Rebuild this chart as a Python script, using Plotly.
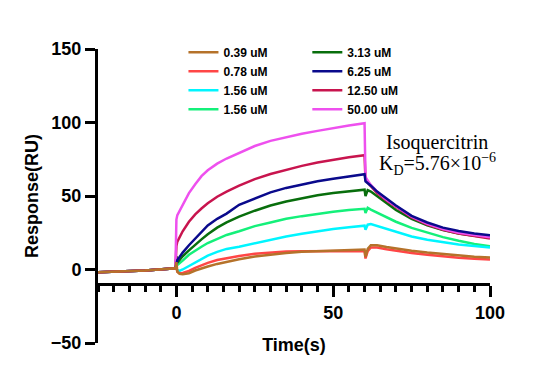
import plotly.graph_objects as go

# Time axis (s)
time_s = [-25, -10, -0.3, 0, 0.3, 1, 2, 4, 6, 8, 10, 13, 16, 20, 25, 30, 35, 40, 45, 50, 55, 60,
          60.3, 61, 62, 64, 67, 70, 75, 80, 85, 90, 95, 100]

# Responses (RU) per concentration
r_039 = [-1.8, -0.6, 0.8, 5, -1.5, -3, -3.2, -2.5, -0.7, 0.8, 2, 3.8, 5.3, 7, 8.8, 10.2, 11.3, 12, 12.5, 13, 13.3, 13.6,
         8.5, 14, 16.5, 16.5, 15.3, 14.3, 12.8, 11.5, 10.4, 9.5, 8.7, 8.2]
r_078 = [-1.8, -0.6, 0.8, 1, -1.5, -2.5, -2.3, -1, 1.1, 3, 4.5, 6.5, 7.8, 9.2, 10.7, 11.6, 12.2, 12.5, 12.6, 12.6, 12.6, 12.6,
         7.5, 12.5, 15, 15, 13.8, 12.8, 11.2, 10, 8.8, 8, 7.3, 6.8]
r_156a = [-1.8, -0.6, 0.8, 0.5, -0.5, -1, 0, 2.5, 5, 7.5, 9.5, 12, 14, 15.5, 18, 20.3, 22.5, 24.3, 26, 27.5, 28.8, 29.8,
          27, 30.5, 31, 29.7, 27.7, 25.5, 22.5, 20.2, 18.5, 17, 16, 15]
r_156b = [-1.8, -0.6, 0.8, 3, 3, 4, 6, 10, 13, 15.5, 18, 21, 23.5, 26, 29.5, 32, 34.5, 36.3, 38, 39.3, 40.5, 41.3,
          38.5, 42, 40.8, 38.7, 35.5, 32.5, 28.3, 25, 22, 19.5, 17.3, 15.8]
r_313 = [-1.8, -0.6, 0.8, 9, 4.7, 6.5, 9, 13, 17, 20.5, 24, 28.5, 32, 36, 40, 43.5, 46.3, 48.5, 50.5, 52, 53.3, 54.3,
         50, 54, 53, 50, 45, 40.5, 34.5, 30, 26.8, 24.5, 23, 21.8]
r_625 = [-1.8, -0.6, 0.8, 5.5, 6.5, 8.5, 11.5, 16.5, 21, 25.5, 30, 34.5, 38, 44, 48.5, 52.5, 55.5, 58, 60, 61.8, 63.3, 64.8,
         60, 58.5, 57, 53, 48, 43.5, 36.5, 32, 28.5, 26.2, 24.5, 23.3]
r_1250 = [-1.8, -0.6, 0.8, 16, 19, 22, 26, 32.5, 37.5, 41.5, 45, 49.5, 53, 57, 61.5, 65, 68, 70.5, 72.8, 74.7, 76.3, 77.7,
          61, 59, 56.5, 52, 47, 42.5, 35.5, 30.5, 27, 24.5, 22.5, 21]
r_5000 = [-1.8, -0.6, 0.8, 34, 37, 40, 44, 52, 58, 63.5, 67.5, 72, 75.5, 79.5, 84, 87.5, 90, 92.3, 94.3, 96.3, 98, 99.5,
          63, 60.5, 57.5, 53, 47.5, 43, 36, 31, 27.5, 25, 23.3, 22]

labels = ["0.39 uM", "0.78 uM", "1.56 uM", "1.56 uM", "3.13 uM", "6.25 uM", "12.50 uM", "50.00 uM"]
colors = ["#B5722A", "#FF4646", "#00F5FF", "#14F07A", "#086E0C", "#0A0A8C", "#C8144E", "#EE50EE"]
series = [r_039, r_078, r_156a, r_156b, r_313, r_625, r_1250, r_5000]
legend_of = ["legend", "legend", "legend", "legend", "legend2", "legend2", "legend2", "legend2"]
draw_order = [3, 2, 4, 6, 7, 5, 1, 0]

fig = go.Figure()
for i in draw_order:
    fig.add_trace(go.Scatter(
        x=time_s, y=series[i], mode="lines", name=labels[i],
        line=dict(color=colors[i], width=2.5),
        legend=legend_of[i], legendrank=i + 1,
    ))

bold = dict(family="Liberation Sans, Arial, sans-serif", size=18, color="black", weight="bold")
legfont = dict(family="Liberation Sans, Arial, sans-serif", size=12, color="black", weight="bold")

fig.update_layout(
    width=537, height=373,
    margin=dict(l=90, r=55, t=41, b=38),
    paper_bgcolor="white", plot_bgcolor="white",
    xaxis=dict(
        range=[-25, 100], anchor="free", position=0.2, automargin=False,
        showline=True, linewidth=3, linecolor="black",
        showgrid=False, zeroline=False,
        ticks="outside", tick0=0, dtick=50, ticklen=11, tickwidth=3, tickcolor="black",
        minor=dict(dtick=5, tick0=0, ticks="outside", ticklen=6, tickwidth=2.5, tickcolor="black", showgrid=False),
        tickfont=bold,
        title=dict(text="Time(s)", font=bold, standoff=16),
    ),
    yaxis=dict(
        range=[-50, 150], automargin=False,
        showline=True, linewidth=3, linecolor="black",
        showgrid=False, zeroline=False,
        ticks="outside", tick0=0, dtick=50, ticklen=10, tickwidth=3, tickcolor="black",
        tickfont=bold,
        title=dict(text="Response(RU)", font=bold, standoff=8),
    ),
    legend=dict(x=0.218, y=1.038, xanchor="left", yanchor="top", font=legfont,
                bgcolor="rgba(0,0,0,0)", borderwidth=0, tracegroupgap=0),
    legend2=dict(x=0.534, y=1.038, xanchor="left", yanchor="top", font=legfont,
                 bgcolor="rgba(0,0,0,0)", borderwidth=0, tracegroupgap=0),
    showlegend=True,
)

serif = dict(family="Liberation Serif, Times New Roman, serif", size=20, color="black")
fig.add_annotation(x=0.866, y=0.682, xref="paper", yref="paper", text="Isoquercitrin",
                   showarrow=False, font=serif, xanchor="center", yanchor="middle")
fig.add_annotation(x=0.866, y=0.61, xref="paper", yref="paper",
                   text="K<sub>D</sub>=5.76×10<sup>−6</sup>",
                   showarrow=False, font=serif, xanchor="center", yanchor="middle")

fig.write_html("out.html")
